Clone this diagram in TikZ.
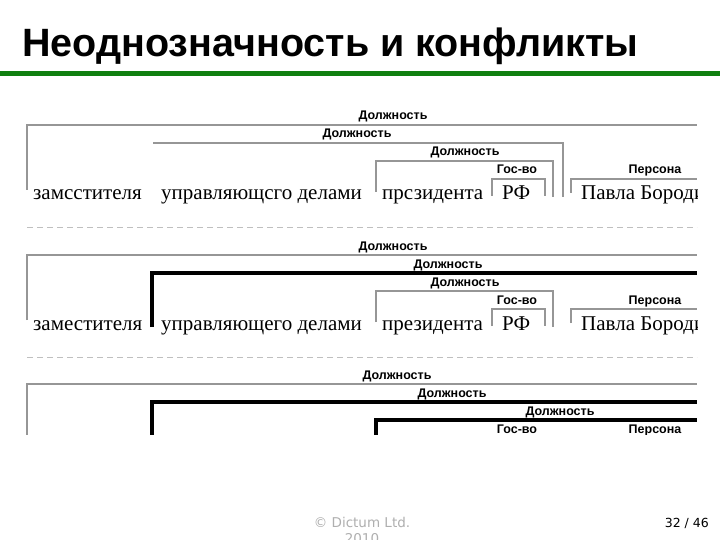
\documentclass[tikz,border=0pt]{standalone}
\usepackage{fontspec}
\setmainfont{Liberation Serif}
\newfontfamily\headfont{Liberation Sans}
\newfontfamily\footfont{DejaVu Sans}
\usepackage{tikz}
\definecolor{slidegreen}{RGB}{16,128,16}
\definecolor{treegray}{RGB}{150,150,150}
\definecolor{footgray}{RGB}{175,175,175}
\tikzset{
    catlabel/.style={font=\headfont\bfseries\fontsize{12.5}{13}\selectfont, inner sep=0pt, anchor=base},
    word/.style={font=\fontsize{21}{22}\selectfont, inner sep=0pt, anchor=base west},
    thinbr/.style={draw=treegray, line width=1.1pt},
    thickbr/.style={draw=black, line width=3.5pt},
    sepline/.style={draw=black!25, line width=1pt, dash pattern=on 6pt off 4pt}
}

\begin{document}
\begin{tikzpicture}[x=1pt, y=-1pt]
            \path[clip] (0,0) rectangle (720,540);
            \fill[white] (0,0) rectangle (720,540);

            % ---------- Title ----------
            \node[anchor=base west, inner sep=0pt, font=\headfont\bfseries\fontsize{39.5}{44}\selectfont] (title) at (22,57) {Неоднозначность и конфликты};
            \draw[slidegreen, line width=5pt] (0,73.5) -- (720,73.5);

            \begin{scope}
                \clip (0,90) rectangle (697,434);

                % ---------- Parse 1 ----------
                \begin{scope}[shift={(0,0)}]
                    \node[catlabel] (a1) at (393,120) {Должность};
                    \node[catlabel] (a2) at (357,138) {Должность};
                    \node[catlabel] (a3) at (465,156) {Должность};
                    \node[catlabel] (a4) at (517,174) {Гос-во};
                    \node[catlabel] (a5) at (655,174) {Персона};

                    \draw[thinbr] (27,190) -- (27,125) -- (697,125);
                    \draw[thinbr] (153,143) -- (563,143) -- (563,197);
                    \draw[thinbr] (376,192) -- (376,161) -- (553,161) -- (553,197);
                    \draw[thinbr] (492,196) -- (492,179) -- (545,179) -- (545,196);
                    \draw[thinbr] (571,193) -- (571,179) -- (697,179);

                    \node[word] (w1) at (33,200) {замсстителя};
                    \node[word] (w2) at (161,200) {управляющсго делами};
                    \node[word] (w3) at (382,200) {прсзидента};
                    \node[word] (w4) at (502,200) {РФ};
                    \node[word] (w5) at (581,200) {Павла Бороди};
                \end{scope}

                \draw[sepline] (27,228) -- (697,228);

                % ---------- Parse 2 ----------
                \begin{scope}[shift={(0,130)}]
                    \node[catlabel] (b1) at (393,120) {Должность};
                    \node[catlabel] (b2) at (448,138) {Должность};
                    \node[catlabel] (b3) at (465,156) {Должность};
                    \node[catlabel] (b4) at (517,174) {Гос-во};
                    \node[catlabel] (b5) at (655,174) {Персона};

                    \draw[thinbr] (27,190) -- (27,125) -- (697,125);
                    \draw[thickbr] (152,197) -- (152,143) -- (697,143);
                    \draw[thinbr] (376,192) -- (376,161) -- (553,161) -- (553,197);
                    \draw[thinbr] (492,196) -- (492,179) -- (545,179) -- (545,196);
                    \draw[thinbr] (571,193) -- (571,179) -- (697,179);

                    \node[word] (v1) at (33,200) {заместителя};
                    \node[word] (v2) at (161,200) {управляющего делами};
                    \node[word] (v3) at (382,200) {президента};
                    \node[word] (v4) at (502,200) {РФ};
                    \node[word] (v5) at (581,200) {Павла Бороди};
                \end{scope}

                \draw[sepline] (27,357) -- (697,357);

                % ---------- Parse 3 (cut off) ----------
                \begin{scope}[shift={(0,259)}]
                    \node[catlabel] (c1) at (397,120) {Должность};
                    \node[catlabel] (c2) at (452,138) {Должность};
                    \node[catlabel] (c3) at (560,156) {Должность};
                    \node[catlabel] (c4) at (517,174) {Гос-во};
                    \node[catlabel] (c5) at (655,174) {Персона};

                    \draw[thinbr] (27,200) -- (27,125) -- (697,125);
                    \draw[thickbr] (152,200) -- (152,143) -- (697,143);
                    \draw[thickbr] (376,200) -- (376,161) -- (697,161);
                \end{scope}
            \end{scope}

            % ---------- Footer ----------
            \node[font=\footfont\fontsize{13.5}{16}\selectfont, text=footgray, align=center, anchor=base] (foot) at (362,543) {© Dictum Ltd.\\2010};
            \node[font=\footfont\fontsize{12.5}{16}\selectfont, anchor=base east, inner sep=0pt] (page) at (709,527) {32 / 46};
        \end{tikzpicture}
\end{document}
